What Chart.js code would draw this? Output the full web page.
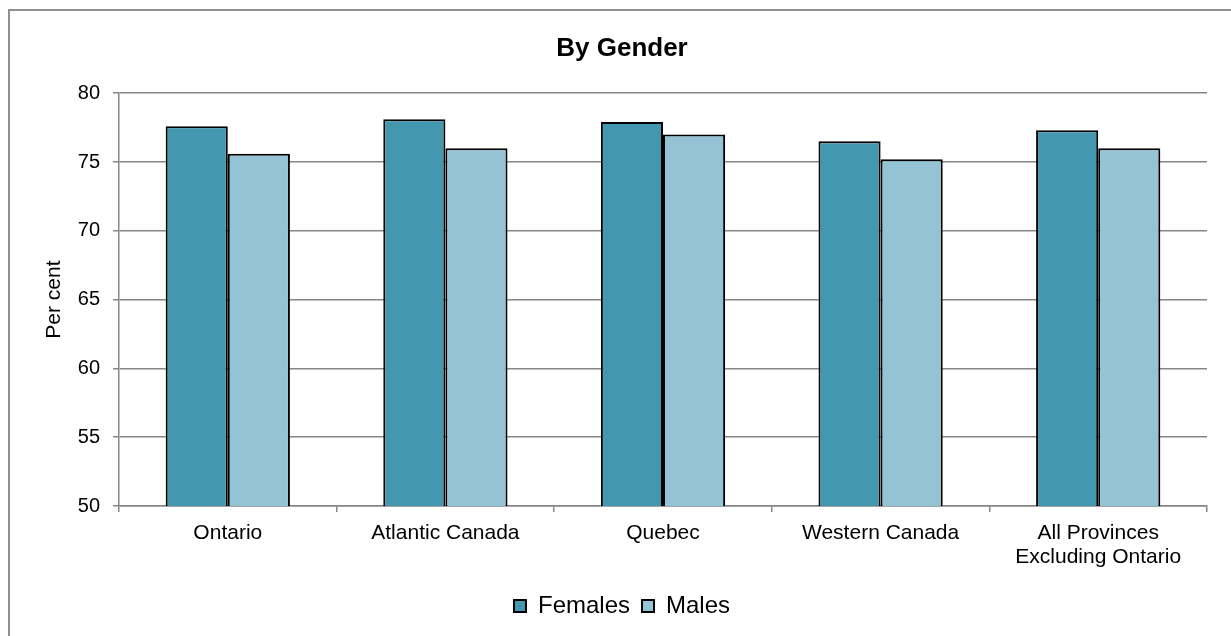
<!DOCTYPE html>
<html>
<head>
<meta charset="utf-8">
<script src="https://cdn.jsdelivr.net/npm/chart.js@4.4.0/dist/chart.umd.min.js"></script>
<style>
  html, body { margin: 0; padding: 0; overflow: hidden; background: #fff; width: 1231px; height: 636px; }
  #frame { position: absolute; left: 8px; top: 9px; width: 1300px; height: 700px; border-top: 2px solid #8f8f8f; border-left: 2px solid #8f8f8f; box-sizing: border-box; }
  #wrap { position: absolute; left: 0; top: 0; width: 1244px; height: 636px; }
</style>
</head>
<body>
<div id="frame"></div>
<div id="wrap"><canvas id="c"></canvas></div>
<script>
const categories = ["Ontario", "Atlantic Canada", "Quebec", "Western Canada", ["All Provinces", "Excluding Ontario"]];
const females = [77.6, 78.1, 77.9, 76.5, 77.3];
const males = [75.6, 76.0, 77.0, 75.2, 76.0];
const yTicks = [50, 55, 60, 65, 70, 75, 80];

const FONT = "'Liberation Sans', Arial, sans-serif";
const GRID = '#868686';

new Chart(document.getElementById('c'), {
  type: 'bar',
  data: {
    labels: categories,
    datasets: [
      { label: 'Females', data: females, backgroundColor: '#4398b0', borderColor: '#000', borderWidth: 2 },
      { label: 'Males', data: males, backgroundColor: '#93c3d4', borderColor: '#000', borderWidth: 2 }
    ]
  },
  options: {
    responsive: true,
    maintainAspectRatio: false,
    animation: false,
    layout: { padding: { left: 0, right: 0, top: 0, bottom: 8 } },
    datasets: { bar: { categoryPercentage: 0.571, barPercentage: 1.0 } },
    plugins: {
      title: {
        display: true, text: 'By Gender', color: '#000',
        font: { family: FONT, size: 26, weight: 'bold' },
        padding: { top: 33, bottom: 29 }
      },
      legend: {
        position: 'bottom',
        labels: {
          color: '#000', font: { family: FONT, size: 24 },
          boxWidth: 12, boxHeight: 12, padding: 12
        }
      },
      tooltip: { enabled: false }
    },
    scales: {
      x: {
        afterFit: (s) => { s.height = 76; },
        grid: { offset: true, drawOnChartArea: false, drawTicks: true, tickLength: 6, color: GRID, lineWidth: 1.5 },
        border: { color: GRID, width: 1.5 },
        ticks: { color: '#000', font: { family: FONT, size: 21, lineHeight: 1.14 }, padding: 9, maxRotation: 0, autoSkip: false }
      },
      y: {
        min: 50, max: 80,
        afterBuildTicks: (s) => { s.ticks = yTicks.map(v => ({ value: v })); },
        afterFit: (s) => { s.width = 119; },
        grid: { color: GRID, lineWidth: 1.5, tickLength: 6 },
        border: { color: GRID, width: 1.5 },
        ticks: { color: '#000', font: { family: FONT, size: 20 }, padding: 13 },
        title: { display: true, text: 'Per cent', color: '#000', font: { family: FONT, size: 21 }, padding: { top: 42, bottom: 0 } }
      },
      yRight: {
        position: 'right',
        display: true,
        min: 50, max: 80,
        afterFit: (s) => { s.width = 37; },
        grid: { display: false, drawOnChartArea: false },
        border: { display: false },
        ticks: { display: false }
      }
    }
  }
});
</script>
</body>
</html>
